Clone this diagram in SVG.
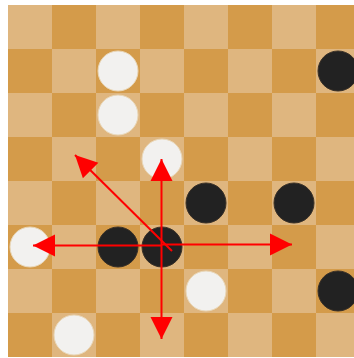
<svg xmlns="http://www.w3.org/2000/svg" width="354" height="358" viewBox="0 0 354 358">
<style>
.w{fill:#F2F1EF;stroke:#E9D7B8;stroke-width:1}
.b{fill:#222222;stroke:#3a3128;stroke-width:1}
.arr{stroke:#FF0000;stroke-width:2;fill:none;marker-end:url(#ah)}
</style>
<defs>
<pattern id="board" x="8" y="5" width="88" height="88" patternUnits="userSpaceOnUse">
<rect width="88" height="88" fill="#DFB67F"/>
<rect x="44" y="0" width="44" height="44" fill="#D49B4A"/>
<rect x="0" y="44" width="44" height="44" fill="#D49B4A"/>
</pattern>
<marker id="ah" markerUnits="userSpaceOnUse" markerWidth="23" markerHeight="23" refX="22" refY="11" orient="auto" viewBox="0 0 23 22">
<path d="M0,0 L22,11 L0,22 z" fill="#FF0000"/>
</marker>
</defs>
<rect width="354" height="358" fill="#FFFFFF"/>
<g id="board-grid">
<rect x="8" y="5" width="352" height="352" fill="url(#board)"/>
</g>
<g id="stones">
<circle id="w1" class="w" cx="118" cy="71" r="20"/>
<circle id="w2" class="w" cx="118" cy="115" r="20"/>
<circle id="w3" class="w" cx="162" cy="159" r="20"/>
<circle id="b1" class="b" cx="338" cy="71" r="20"/>
<circle id="b2" class="b" cx="206" cy="203" r="20"/>
<circle id="b3" class="b" cx="294" cy="203" r="20"/>
<circle id="w4" class="w" cx="30" cy="247" r="20"/>
<circle id="b4" class="b" cx="118" cy="247" r="20"/>
<circle id="b5" class="b" cx="162" cy="247" r="20"/>
<circle id="w5" class="w" cx="206" cy="291" r="20"/>
<circle id="b6" class="b" cx="338" cy="291" r="20"/>
<circle id="w6" class="w" cx="74" cy="335" r="20"/>
</g>
<g id="connectors">
<line class="arr" x1="161.5" y1="245" x2="161.5" y2="159"/>
<line class="arr" x1="161.5" y1="245" x2="161.5" y2="339"/>
<line class="arr" x1="162" y1="245.5" x2="33" y2="245.5"/>
<line class="arr" x1="162" y1="244.5" x2="292" y2="244.5"/>
<line class="arr" x1="172" y1="251" x2="75" y2="155"/>
</g>
</svg>
